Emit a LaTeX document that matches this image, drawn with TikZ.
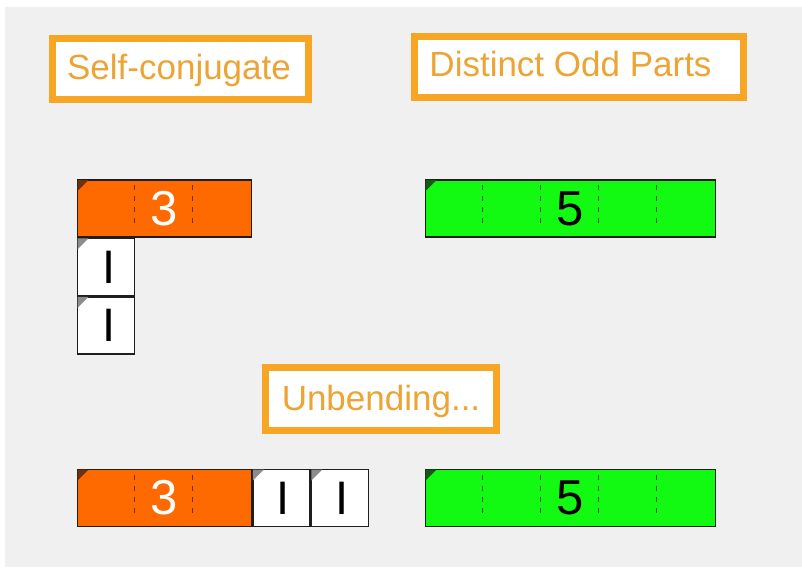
\documentclass[tikz,border=0pt]{standalone}
\usepackage{fontspec}
\setmainfont{Liberation Sans}
\definecolor{bg}{RGB}{240,240,240}
\definecolor{lblorange}{RGB}{246,166,35}
\definecolor{lbltext}{RGB}{236,164,52}
\definecolor{barorange}{RGB}{255,106,0}
\definecolor{bargreen}{RGB}{18,250,18}
\definecolor{darkbrown}{RGB}{110,50,15}
\definecolor{darkgreen}{RGB}{20,90,20}
\definecolor{edge}{RGB}{30,30,30}
\definecolor{cornergray}{RGB}{140,140,140}
\tikzset{
  lblbox/.style={draw=lblorange, fill=white, line width=7pt, inner sep=0pt},
  lbltxt/.style={text=lbltext, font=\fontsize{35}{40}\selectfont, inner sep=0pt, anchor=base},
  cell/.style={draw=edge, line width=1.4pt, inner sep=0pt, minimum height=57pt, font=\fontsize{49}{52}\selectfont},
  orangebar/.style={cell, fill=barorange, text=white, minimum width=174pt},
  greenbar/.style={cell, fill=bargreen, text=black, minimum width=290pt},
  onecell/.style={cell, fill=white, text=black, minimum width=57pt, font=\fontsize{47}{50}\selectfont},
  odash/.style={draw=darkbrown, line width=1pt, dash pattern=on 5pt off 6pt},
  gdash/.style={draw=darkgreen, line width=0.9pt, dash pattern=on 5pt off 6pt},
}
\begin{document}
\begin{tikzpicture}[x=1pt,y=-1pt]
\useasboundingbox (0,0) rectangle (802,567);
\fill[white] (0,0) rectangle (802,567);
\fill[bg] (5,7) rectangle (802,567);

% labels
\node[lblbox, minimum width=256pt, minimum height=61pt] (scbox) at (180.5,69) {};
\node[lbltxt] (sctxt) at (179,80) {Self-conjugate};
\node[lblbox, minimum width=329pt, minimum height=61pt] (dobox) at (579,67) {};
\node[lbltxt] (dotxt) at (570.5,77) {Distinct Odd Parts};
\node[lblbox, minimum width=231pt, minimum height=63pt] (ubbox) at (381,399) {};
\node[lbltxt] (ubtxt) at (381,410) {Unbending...};

% top left: self-conjugate partition
\node[orangebar] (o1) at (164.5,208.5) {3};
\node[onecell, anchor=north west] (w1) at (o1.south west) {\kern6pt I};
\node[onecell, anchor=north west] (w2) at (w1.south west) {\kern6pt I};

% top right: distinct odd parts
\node[greenbar] (g1) at (570.5,208.5) {5};

% bottom row
\node[orangebar] (o2) at (164.5,498) {3};
\node[onecell, anchor=north west] (w3) at (o2.north east) {\kern4pt I};
\node[onecell, anchor=north west] (w4) at (w3.north east) {\kern4pt I};
\node[greenbar] (g2) at (570.5,498) {5};

% dashed separators and corner marks
\foreach \b in {o1,o2}{
  \foreach \k in {1,2}{
    \draw[odash] ([xshift=\k*58pt,yshift=-6pt]\b.north west) -- ([xshift=\k*58pt,yshift=9pt]\b.south west);
  }
  \fill[darkbrown] ([xshift=0.7pt,yshift=-0.7pt]\b.north west) -- ++(11,0) -- ++(-11,11) -- cycle;
}
\foreach \b in {g1,g2}{
  \foreach \k in {1,2,3,4}{
    \draw[gdash] ([xshift=\k*58pt,yshift=-6pt]\b.north west) -- ([xshift=\k*58pt,yshift=9pt]\b.south west);
  }
  \fill[darkgreen] ([xshift=0.7pt,yshift=-0.7pt]\b.north west) -- ++(11,0) -- ++(-11,11) -- cycle;
}
\foreach \b in {w1,w2,w3,w4}{
  \fill[cornergray] ([xshift=0.7pt,yshift=-0.7pt]\b.north west) -- ++(11,0) -- ++(-11,11) -- cycle;
}
\end{tikzpicture}
\end{document}
